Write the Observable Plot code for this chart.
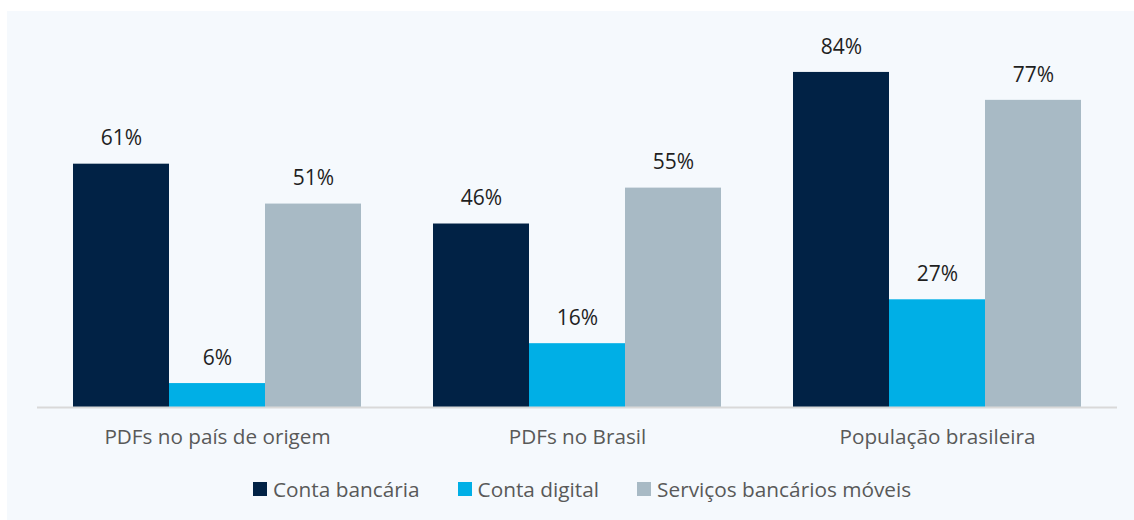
<!DOCTYPE html>
<html>
<head>
<meta charset="utf-8">
<script src="https://cdn.jsdelivr.net/npm/d3@7"></script>
<script src="https://cdn.jsdelivr.net/npm/@observablehq/plot@0.6"></script>
<style>
  html, body { margin: 0; padding: 0; background: #ffffff; }
  #panel { position: absolute; left: 7px; top: 11px; width: 1127px; height: 509px; background: #f5f9fd; font-family: "Open Sans", sans-serif; }
  #legend { position: absolute; left: 246px; top: 464px; display: flex; justify-content: flex-start; gap: 38px; font-size: 20.8px; color: #595959; white-space: nowrap; }
  .item { display: flex; align-items: center; }
  .sw { width: 14px; height: 14px; margin-right: 6px; }
</style>
</head>
<body>
<div id="panel"><div id="chart"></div><div id="legend"></div></div>
<script>
const groups = ["PDFs no país de origem", "PDFs no Brasil", "População brasileira"];
const series = ["Conta bancária", "Conta digital", "Serviços bancários móveis"];
const contaBancaria = [61, 46, 84];
const contaDigital = [6, 16, 27];
const servicosMoveis = [51, 55, 77];
const colors = ["#012245", "#00afe6", "#a8bac5"];

const valuesBySeries = [contaBancaria, contaDigital, servicosMoveis];
const data = [];
groups.forEach((g, gi) => {
  series.forEach((s, si) => {
    data.push({group: g, series: s, value: valuesBySeries[si][gi]});
  });
});

const chart = Plot.plot({
  width: 1127,
  height: 460,
  marginLeft: 30,
  marginRight: 17,
  marginTop: 37,
  marginBottom: 64,
  style: {background: "transparent", fontFamily: "Open Sans, sans-serif", overflow: "visible"},
  fx: {domain: groups, padding: 0, label: null, axis: null},
  x: {domain: series, padding: 0, paddingOuter: 0.375, axis: null},
  y: {domain: [0, 90], axis: null},
  color: {domain: series, range: colors},
  marks: [
    Plot.barY(data, {fx: "group", x: "series", y: "value", fill: "series", inset: 0}),
    Plot.ruleY([0], {stroke: "#d9d9d9", strokeWidth: 2}),
    Plot.text(data, {fx: "group", x: "series", y: "value", text: d => d.value + "%", dy: -25.5, fontSize: 21, fill: "#1f1f1f"}),
    Plot.axisFx({domain: groups, anchor: "bottom", tickSize: 0, tickPadding: 22, fontSize: 20.7, color: "#595959", label: null})
  ]
});
document.getElementById("chart").appendChild(chart);

const legend = document.getElementById("legend");
series.forEach((s, i) => {
  const item = document.createElement("div");
  item.className = "item";
  const sw = document.createElement("div");
  sw.className = "sw";
  sw.style.background = colors[i];
  const t = document.createElement("span");
  t.textContent = s;
  item.appendChild(sw);
  item.appendChild(t);
  legend.appendChild(item);
});
</script>
</body>
</html>
